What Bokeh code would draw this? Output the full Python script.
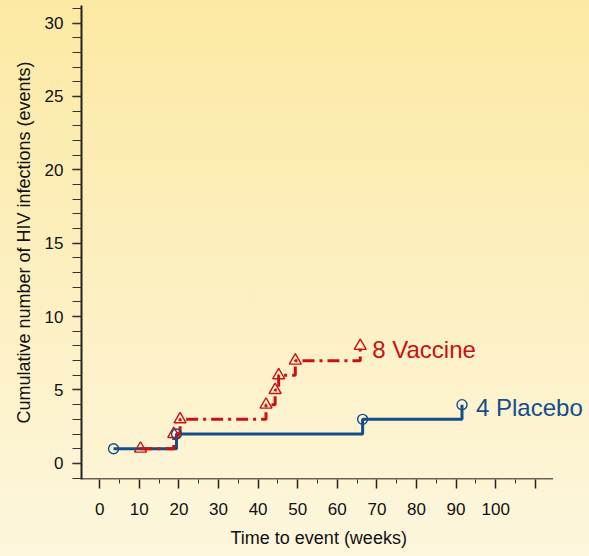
from bokeh.plotting import figure
from bokeh.models import Range1d, SingleIntervalTicker, FixedTicker, ColumnDataSource, Label, Title
from bokeh.embed import file_html
from bokeh.resources import INLINE

# Data
placebo_weeks = [3.5, 19.4, 66.4, 91.5]
placebo_counts = [1, 2, 3, 4]
vaccine_weeks = [10.3, 18.7, 20.3, 42.0, 44.3, 45.2, 49.4, 65.8]
vaccine_counts = [1, 2, 3, 4, 5, 6, 7, 8]
x_ticks = [0, 10, 20, 30, 40, 50, 60, 70, 80, 90, 100, 110]
y_ticks = [0, 5, 10, 15, 20, 25, 30]

BLUE = "#134e8c"
RED = "#c81212"
FONT = "Liberation Sans"

X_START, X_AXIS_END, X_END = -4.6, 114.5, 123.7
Y_START, Y_END = -1.1, 31.2

p = figure(width=589, height=556, output_backend="svg", toolbar_location=None,
           x_range=Range1d(X_START, X_END), y_range=Range1d(Y_START, Y_END),
           min_border_left=81, min_border_right=0, min_border_top=5, min_border_bottom=77)
p.styles = {"background-image": "linear-gradient(to bottom, #fce9a3, #fdf6dd)"}
p.background_fill_alpha = 0
p.border_fill_alpha = 0
p.outline_line_color = None
p.xgrid.grid_line_color = None
p.ygrid.grid_line_color = None

# axes
p.xaxis.ticker = FixedTicker(ticks=x_ticks, minor_ticks=[t + 5 for t in x_ticks[:-1]])
p.xaxis.major_label_overrides = {110: ""}
p.yaxis.ticker = SingleIntervalTicker(interval=5, num_minor_ticks=5)
for ax in (p.xaxis[0], p.yaxis[0]):
    ax.axis_line_color = "#222222"
    ax.major_tick_line_color = "#222222"
    ax.minor_tick_line_color = "#333333"
    ax.major_tick_in = 0
    ax.minor_tick_in = 0
    ax.major_tick_out = 9
    ax.major_label_text_font = FONT
    ax.major_label_text_font_size = "17px"
    ax.major_label_text_color = "#111111"
    ax.axis_label_text_font = FONT
    ax.axis_label_text_font_size = "18px"
    ax.axis_label_text_font_style = "normal"
    ax.axis_label_text_color = "#111111"
p.xaxis.axis_line_color = None
p.yaxis.axis_line_width = 2
p.xaxis.major_tick_line_width = 1.5
p.yaxis.major_tick_line_width = 1.5
p.xaxis.minor_tick_out = 4
p.yaxis.minor_tick_out = 9
p.xaxis.major_label_standoff = 14
p.yaxis.major_label_standoff = 9
p.yaxis.axis_label = "Cumulative number of HIV infections (events)"
p.yaxis.axis_label_standoff = 8

# x axis title, positioned under the drawn part of the axis
p.add_layout(Title(text="Time to event (weeks)", align="left", offset=149, standoff=17,
                   text_font=FONT, text_font_size="18px", text_font_style="normal",
                   text_color="#111111"), "below")

# x axis line that stops short of the right edge (as in the reference)
p.segment(x0=[X_START], y0=[Y_START + 0.04], x1=[X_AXIS_END], y1=[Y_START + 0.04],
          line_color="#333333", line_width=1.5)

placebo = ColumnDataSource(dict(x=placebo_weeks, y=placebo_counts))
vaccine = ColumnDataSource(dict(x=vaccine_weeks, y=vaccine_counts))

p.step("x", "y", source=placebo, mode="after", line_color=BLUE, line_width=3)
p.step("x", "y", source=vaccine, mode="after", line_color=RED, line_width=3,
       line_dash="12 5 3 5")
p.scatter("x", "y", source=vaccine, marker="triangle", size=12, fill_color=None,
          line_color=RED, line_width=1.4)
p.scatter("x", "y", source=placebo, marker="circle", size=10, fill_color=None,
          line_color=BLUE, line_width=1.4)

p.add_layout(Label(x=vaccine_weeks[-1], y=vaccine_counts[-1],
                   text=f"{vaccine_counts[-1]} Vaccine", x_offset=12, y_offset=-4,
                   text_baseline="middle", text_align="left", text_color=RED,
                   text_font=FONT, text_font_size="24px"))
p.add_layout(Label(x=placebo_weeks[-1], y=placebo_counts[-1],
                   text=f"{placebo_counts[-1]} Placebo", x_offset=14, y_offset=-3,
                   text_baseline="middle", text_align="left", text_color=BLUE,
                   text_font=FONT, text_font_size="24px"))

open("out.html", "w").write(file_html(p, INLINE))
